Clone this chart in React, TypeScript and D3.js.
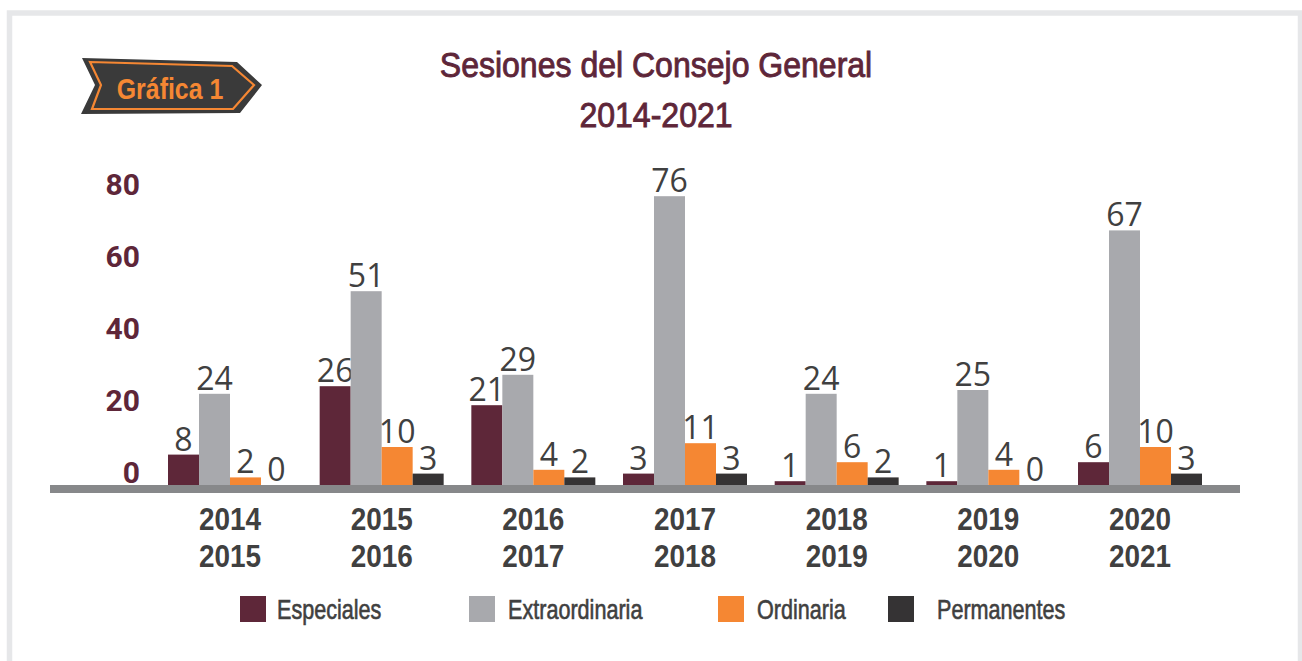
import React from "react";
import * as d3 from "d3";

const categories = [
  ["2014", "2015"],
  ["2015", "2016"],
  ["2016", "2017"],
  ["2017", "2018"],
  ["2018", "2019"],
  ["2019", "2020"],
  ["2020", "2021"],
];
const seriesNames = ["Especiales", "Extraordinaria", "Ordinaria", "Permanentes"];
const especiales = [8, 26, 21, 3, 1, 1, 6];
const extraordinaria = [24, 51, 29, 76, 24, 25, 67];
const ordinaria = [2, 10, 4, 11, 6, 4, 10];
const permanentes = [0, 3, 2, 3, 2, 0, 3];
const yTicks = [0, 20, 40, 60, 80];

const colors = ["#5e2739", "#a8a9ad", "#f58733", "#353334"];
const NARROW = "'Liberation Sans', Arial, sans-serif";
const MAROON = "#5e2639";
const TEXT = "#404040";

// Condensed text: Liberation Sans squeezed horizontally
function Cond(props: {
  x: number; y: number; size: number; text: string; fill: string; bold?: boolean;
  anchor?: "start" | "middle" | "end"; squeeze?: number; thick?: number;
}) {
  const { x, y, size, text, fill, bold, anchor = "start", squeeze = 0.8, thick = 0 } = props;
  return (
    <g transform={`translate(${x},${y}) scale(${squeeze},1)`}>
      <text x={0} y={0} textAnchor={anchor} fontFamily={NARROW} fontWeight={bold ? "bold" : "normal"}
        fontSize={size} fill={fill} stroke={thick ? fill : "none"} strokeWidth={thick}>
        {text}
      </text>
    </g>
  );
}

export default function App() {
  const W = 1302, H = 661;
  const base = 485;
  const series = [especiales, extraordinaria, ordinaria, permanentes];
  const catKeys = categories.map((c) => c.join("-"));

  const x0 = d3.scaleBand<string>().domain(catKeys).range([168, 1202]).paddingInner(0.1825).paddingOuter(0);
  const x1 = d3.scaleBand<string>().domain(seriesNames).range([0, x0.bandwidth()]).padding(0);
  const y = d3.scaleLinear().domain([0, 80]).range([base, base - 80 * 3.8]);
  const yLabel = d3.scaleLinear().domain([0, 80]).range([472, 184]);

  const legendX = d3.scaleOrdinal<string, number>().domain(seriesNames).range([240, 469, 718, 888]);
  const legendTextX = d3.scaleOrdinal<string, number>().domain(seriesNames).range([277, 508, 757, 937]);

  const badge = "M82,58 L237,62 L262,85 L240,113 L81,114 L95,85 Z";
  const badgeInner = "M90,62 L232,66 L254,85 L233,109 L92,109 L101,85 Z";

  return (
    <svg width={W} height={H} style={{ position: "absolute", left: 0, top: 0, background: "#fff" }}>
      <rect x={9.5} y={13} width={1291} height={700} fill="#fff" stroke="#e6e7e9" strokeWidth={5.5} />

      {/* badge */}
      <path d={badge} fill="#3a3a3a" />
      <path d={badgeInner} fill="none" stroke="#f58733" strokeWidth={2.2} />
      <Cond x={170} y={99} size={30} text="Gráfica 1" fill="#f58733" bold anchor="middle" squeeze={0.83} />

      {/* title */}
      <Cond x={656} y={77} size={35} text="Sesiones del Consejo General" fill={MAROON} anchor="middle" squeeze={0.915} thick={0.9} />
      <Cond x={656} y={127} size={35} text="2014-2021" fill={MAROON} anchor="middle" squeeze={0.915} thick={0.9} />

      {/* y tick labels */}
      {yTicks.map((t) => (
        <text key={t} x={140} y={yLabel(t)} dy="0.36em" textAnchor="end" fontFamily="Roboto, sans-serif"
          fontWeight="bold" fontSize={30} fill={MAROON}>
          {t}
        </text>
      ))}

      {/* bars */}
      {catKeys.map((ck, i) => (
        <g key={ck} transform={`translate(${x0(ck)},0)`}>
          {seriesNames.map((s, j) => {
            const v = series[j][i];
            const bx = x1(s)!;
            return (
              <g key={s}>
                {v > 0 && (
                  <rect x={bx} y={y(v)} width={x1.bandwidth()} height={base - y(v)} fill={colors[j]} />
                )}
                <text x={bx + x1.bandwidth() / 2} y={y(v) - 4} textAnchor="middle"
                  fontFamily="'Open Sans', sans-serif" fontSize={32} fill={TEXT}>
                  {v}
                </text>
              </g>
            );
          })}
        </g>
      ))}

      {/* axis band */}
      <rect x={50} y={485} width={1190} height={8} fill="#87888a" />

      {/* category labels */}
      {catKeys.map((ck, i) => (
        <g key={ck}>
          <Cond x={x0(ck)! + x0.bandwidth() / 2} y={530} size={31} text={categories[i][0]} fill={TEXT} bold anchor="middle" squeeze={0.9} />
          <Cond x={x0(ck)! + x0.bandwidth() / 2} y={567} size={31} text={categories[i][1]} fill={TEXT} bold anchor="middle" squeeze={0.9} />
        </g>
      ))}

      {/* legend */}
      {seriesNames.map((s, j) => (
        <g key={s}>
          <rect x={legendX(s)} y={596} width={26} height={26} fill={colors[j]} />
          <Cond x={legendTextX(s)} y={619} size={27} text={s} fill={TEXT} squeeze={0.8} thick={0.6} />
        </g>
      ))}
    </svg>
  );
}
